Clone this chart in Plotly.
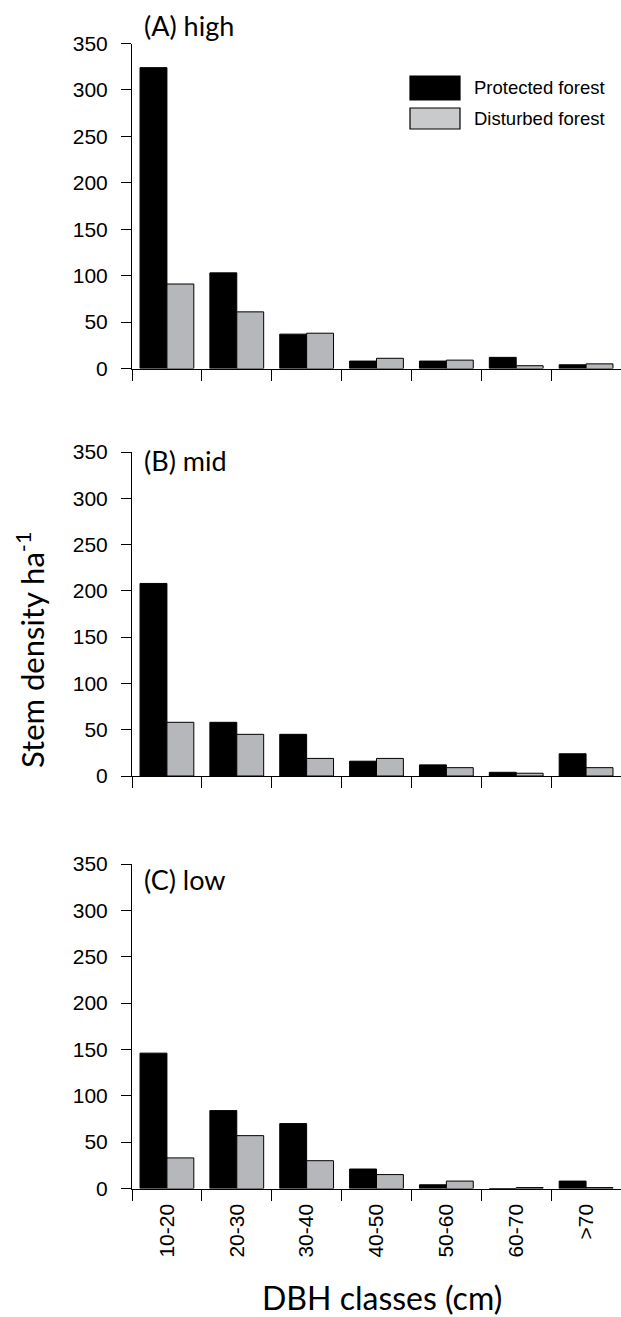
import plotly.graph_objects as go

W, H = 621, 1317

classes = ["10-20", "20-30", "30-40", "40-50", "50-60", "60-70", ">70"]
high_protected = [324, 103, 37, 8, 8, 12, 4]
high_disturbed = [91, 61, 38, 11, 9, 3, 5]
mid_protected = [208, 58, 45, 16, 12, 4, 24]
mid_disturbed = [58, 45, 19, 19, 9, 3, 9]
low_protected = [146, 84, 70, 21, 4, 0, 8]
low_disturbed = [33, 57, 30, 15, 8, 1, 1]
panel_labels = ["(A) high", "(B) mid", "(C) low"]
y_ticks = [0, 50, 100, 150, 200, 250, 300, 350]
series_names = ["Protected forest", "Disturbed forest"]

BLACK = "#000000"
GRAY = "#b5b7ba"

def px_x(v):
    return v / W

def px_y(v):
    return 1 - v / H

# panel pixel extents (top of 350, bottom at 0)
panels = [(43.5, 368.5), (452, 776), (864, 1188.5)]
data = [(high_protected, high_disturbed), (mid_protected, mid_disturbed), (low_protected, low_disturbed)]

fig = go.Figure()
layout = dict(
    width=W, height=H,
    margin=dict(l=0, r=0, t=0, b=0),
    paper_bgcolor="white", plot_bgcolor="white",
    barmode="group", bargap=0.23, bargroupgap=0,
    showlegend=False,
    font=dict(family="Liberation Sans, Arial", size=21, color="black"),
)

for i, ((top, bot), (prot, dist)) in enumerate(zip(panels, data)):
    n = "" if i == 0 else str(i + 1)
    xa, ya = "x" + n, "y" + n
    fig.add_trace(go.Bar(x=classes, y=prot, name=series_names[0], xaxis=xa, yaxis=ya,
                         marker=dict(color=BLACK, line=dict(color="black", width=1))))
    fig.add_trace(go.Bar(x=classes, y=dist, name=series_names[1], xaxis=xa, yaxis=ya,
                         marker=dict(color=GRAY, line=dict(color="black", width=1))))
    layout["xaxis" + n] = dict(
        domain=[px_x(132), 1.0], anchor=ya, type="category",
        showline=True, linecolor="black", linewidth=1,
        ticks="outside", ticklen=11, tickwidth=1, tickcolor="black",
        tickson="boundaries", showgrid=False, zeroline=False,
        showticklabels=(i == 2), tickangle=-90, ticklabelstandoff=6,
        tickfont=dict(family="Liberation Sans, Arial", size=21, color="black"),
        automargin=False,
    )
    layout["yaxis" + n] = dict(
        domain=[px_y(bot), px_y(top)], anchor=xa, range=[0, 350],
        tickvals=y_ticks, showline=True, linecolor="black", linewidth=1,
        ticks="outside", ticklen=10, tickwidth=1, tickcolor="black",
        ticklabelstandoff=9,
        showgrid=False, zeroline=False,
        tickfont=dict(family="Liberation Sans, Arial", size=21, color="black"),
        automargin=False,
    )

fig.update_layout(**layout)

annotations = []
label_y = [25, 460, 879]
for lbl, yy in zip(panel_labels, label_y):
    annotations.append(dict(text=lbl, x=px_x(142), y=px_y(yy), xref="paper", yref="paper",
                            xanchor="left", yanchor="middle", showarrow=False,
                            font=dict(family="Lato, Open Sans", size=27, color="black")))

annotations.append(dict(text="Stem density ha<sup>-1</sup>", x=px_x(30), y=px_y(650),
                        xref="paper", yref="paper", xanchor="center", yanchor="middle",
                        textangle=-90, showarrow=False,
                        font=dict(family="Lato, Open Sans", size=31, color="black")))
annotations.append(dict(text="DBH classes (cm)", x=px_x(382), y=px_y(1297),
                        xref="paper", yref="paper", xanchor="center", yanchor="middle",
                        showarrow=False,
                        font=dict(family="Lato, Open Sans", size=32, color="black")))

# legend (panel A)
leg_items = [(series_names[0], BLACK, 76, 100), (series_names[1], "#c9cacc", 108, 129)]
shapes = []
for name, col, t, b in leg_items:
    shapes.append(dict(type="rect", xref="paper", yref="paper",
                       x0=px_x(410), x1=px_x(460), y0=px_y(b), y1=px_y(t),
                       fillcolor=col, line=dict(color="black", width=1.2)))
    annotations.append(dict(text=name, x=px_x(472), y=px_y((t + b) / 2), xref="paper", yref="paper",
                            xanchor="left", yanchor="middle", showarrow=False,
                            font=dict(family="Liberation Sans, Arial", size=18.5, color="black")))

fig.update_layout(annotations=annotations, shapes=shapes)
fig.write_html("out.html")
